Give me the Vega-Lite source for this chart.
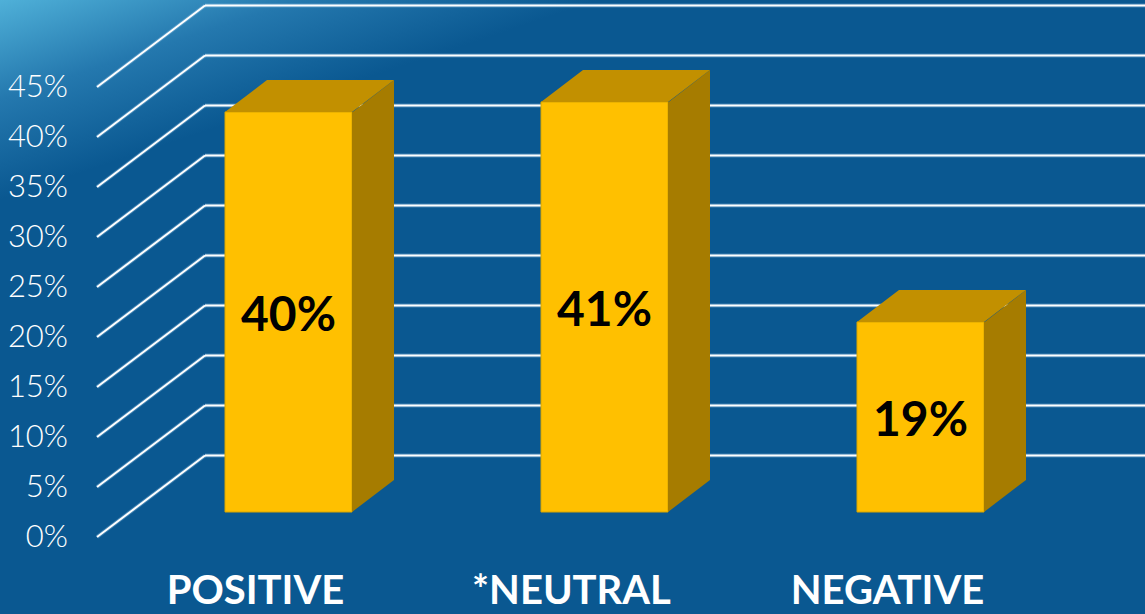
{
  "$schema": "https://vega.github.io/schema/vega-lite/v6.json",
  "width": 1145,
  "height": 614,
  "padding": 0,
  "autosize": {"type": "none"},
  "config": {
    "view": {"stroke": null}
  },
  "datasets": {
    "bars": [
      {"cat": "POSITIVE", "v": 0.40},
      {"cat": "*NEUTRAL", "v": 0.41},
      {"cat": "NEGATIVE", "v": 0.19}
    ],
    "grid": [
      {"g": 0}, {"g": 0.05}, {"g": 0.10}, {"g": 0.15}, {"g": 0.20},
      {"g": 0.25}, {"g": 0.30}, {"g": 0.35}, {"g": 0.40}, {"g": 0.45}
    ]
  },
  "layer": [
    {
      "data": {"values": [{}]},
      "mark": {"type": "rect", "fill": {"gradient": "linear", "x1": 0, "y1": 0, "x2": 0.146, "y2": 0.235, "stops": [{"offset": 0, "color": "#4FB0D8"}, {"offset": 0.5, "color": "#2478AE"}, {"offset": 1, "color": "#0A5891"}]}},
      "encoding": {}
    },
    {
      "data": {"name": "grid"},
      "mark": {"type": "rule", "stroke": "#9CC8EC", "strokeWidth": 4, "opacity": 0.35, "xOffset": -191.5, "x2Offset": -83.5, "y2Offset": -81.5},
      "encoding": {
        "x": {"datum": "POSITIVE", "type": "nominal", "title": null, "axis": null, "scale": {"domain": ["POSITIVE", "*NEUTRAL", "NEGATIVE"], "range": [130.5, 1078.5], "paddingInner": 0, "paddingOuter": 0}},
        "x2": {"datum": "POSITIVE"},
        "y": {"field": "g", "type": "quantitative", "title": null, "axis": null, "scale": {"domain": [0, 0.45], "range": [537, 87], "nice": false, "zero": false}},
        "y2": {"field": "g"}
      }
    },
    {
      "data": {"name": "grid"},
      "mark": {"type": "rule", "stroke": "#ffffff", "strokeWidth": 2, "xOffset": -191.5, "x2Offset": -83.5, "y2Offset": -81.5},
      "encoding": {
        "x": {"datum": "POSITIVE", "type": "nominal", "title": null, "axis": null},
        "x2": {"datum": "POSITIVE"},
        "y": {"field": "g", "type": "quantitative", "title": null, "axis": null},
        "y2": {"field": "g"}
      }
    },
    {
      "data": {"name": "grid"},
      "mark": {"type": "rule", "stroke": "#9CC8EC", "strokeWidth": 4, "opacity": 0.35, "xOffset": -83.5, "x2Offset": 230, "yOffset": -81.5},
      "encoding": {
        "x": {"datum": "POSITIVE", "type": "nominal", "title": null, "axis": null},
        "x2": {"datum": "NEGATIVE"},
        "y": {"field": "g", "type": "quantitative", "title": null, "axis": null}
      }
    },
    {
      "data": {"name": "grid"},
      "mark": {"type": "rule", "stroke": "#ffffff", "strokeWidth": 2, "xOffset": -83.5, "x2Offset": 230, "yOffset": -81.5},
      "encoding": {
        "x": {"datum": "POSITIVE", "type": "nominal", "title": null, "axis": null},
        "x2": {"datum": "NEGATIVE"},
        "y": {"field": "g", "type": "quantitative", "title": null, "axis": null}
      }
    },
    {
      "data": {"name": "grid"},
      "mark": {"type": "text", "font": "Lato", "fontWeight": 300, "fontSize": 31, "fill": "#ffffff", "align": "right", "baseline": "middle", "xOffset": -220.5, "yOffset": 1},
      "encoding": {
        "x": {"datum": "POSITIVE", "type": "nominal", "title": null, "axis": null},
        "y": {"field": "g", "type": "quantitative", "title": null, "axis": null},
        "text": {"field": "g", "type": "quantitative", "format": ".0%"}
      }
    },
    {
      "data": {"name": "bars"},
      "mark": {"type": "bar", "width": 127, "fill": "#FFC000", "stroke": "#D9A600", "strokeWidth": 1, "yOffset": -25, "y2Offset": -25},
      "encoding": {
        "x": {"field": "cat", "type": "nominal", "title": null, "axis": null, "sort": null},
        "y": {"field": "v", "type": "quantitative", "title": null, "axis": null},
        "y2": {"datum": 0}
      }
    },
    {
      "data": {"name": "bars"},
      "mark": {"type": "bar", "width": 42, "xOffset": 84.5, "fill": "#A67C00", "yOffset": -25, "y2Offset": -57},
      "encoding": {
        "x": {"field": "cat", "type": "nominal", "title": null, "axis": null, "sort": null},
        "y": {"field": "v", "type": "quantitative", "title": null, "axis": null},
        "y2": {"datum": 0}
      }
    },
    {
      "data": {"name": "bars"},
      "mark": {"type": "point", "filled": true, "fill": "#A67C00", "opacity": 1, "strokeWidth": 0, "size": 4, "yOffset": -25, "shape": "M63.5,0.5L105.5,-32L105.5,1L63.5,1Z"},
      "encoding": {
        "x": {"field": "cat", "type": "nominal", "title": null, "axis": null, "sort": null},
        "y": {"field": "v", "type": "quantitative", "title": null, "axis": null}
      }
    },
    {
      "data": {"name": "bars"},
      "mark": {"type": "point", "filled": true, "fill": "#A67C00", "opacity": 1, "strokeWidth": 0, "size": 4, "yOffset": -25, "shape": "M63.5,-33L105.5,-33L105.5,-32L63.5,0Z"},
      "encoding": {
        "x": {"field": "cat", "type": "nominal", "title": null, "axis": null, "sort": null},
        "y": {"datum": 0, "type": "quantitative", "title": null, "axis": null}
      }
    },
    {
      "data": {"name": "bars"},
      "mark": {"type": "point", "filled": true, "fill": "#C29000", "opacity": 1, "strokeWidth": 0, "size": 4, "yOffset": -25, "shape": "M-63.5,0L-21.5,-32L105.5,-32L63.5,0Z"},
      "encoding": {
        "x": {"field": "cat", "type": "nominal", "title": null, "axis": null, "sort": null},
        "y": {"field": "v", "type": "quantitative", "title": null, "axis": null}
      }
    },
    {
      "data": {"name": "bars"},
      "transform": [{"calculate": "datum.v / 2", "as": "mid"}],
      "mark": {"type": "text", "font": "Lato", "fontWeight": "bold", "fontSize": 48, "fill": "#000000", "align": "center", "baseline": "middle", "yOffset": -20},
      "encoding": {
        "x": {"field": "cat", "type": "nominal", "title": null, "axis": null, "sort": null},
        "y": {"field": "mid", "type": "quantitative", "title": null, "axis": null},
        "text": {"field": "v", "type": "quantitative", "format": ".0%"}
      }
    },
    {
      "data": {"name": "bars"},
      "mark": {"type": "text", "font": "Lato", "fontWeight": "bold", "fontSize": 40, "fill": "#ffffff", "align": "center", "baseline": "alphabetic", "xOffset": -33, "yOffset": 67},
      "encoding": {
        "x": {"field": "cat", "type": "nominal", "title": null, "axis": null, "sort": null},
        "y": {"datum": 0, "type": "quantitative", "title": null, "axis": null},
        "text": {"field": "cat", "type": "nominal"}
      }
    }
  ]
}
